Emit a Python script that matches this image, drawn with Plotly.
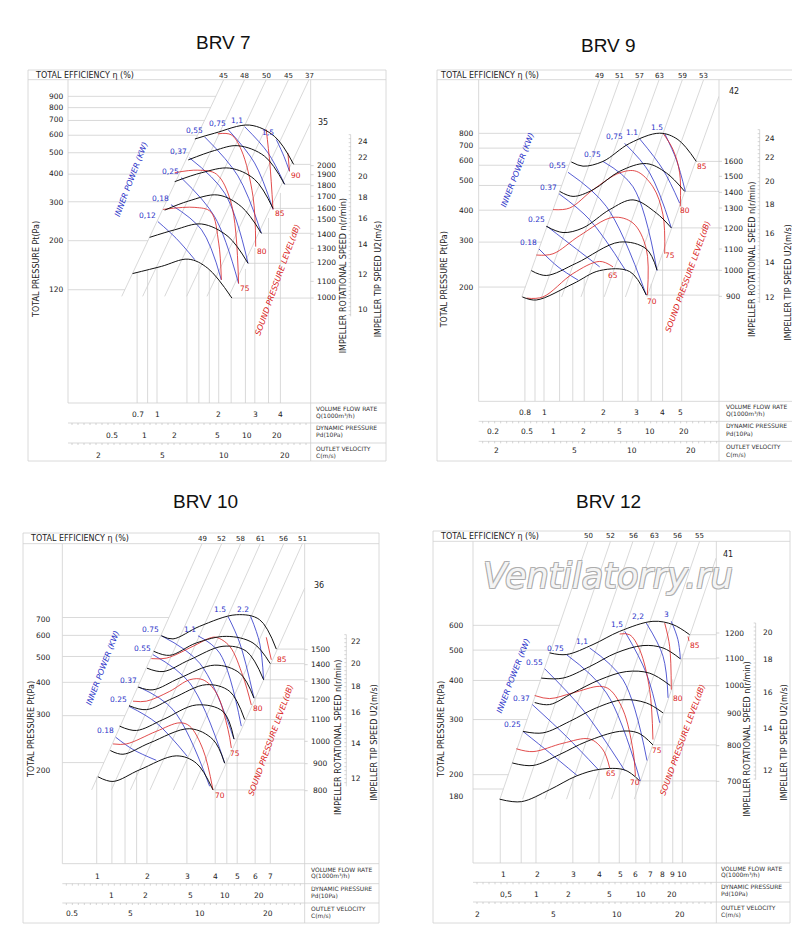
import numpy as np
import plotly.graph_objects as go

W, H = 800, 930

# ---------------- DATA ----------------
# BRV 7  (flow in 1000 m3/h, pressure in Pa)
BRV7_SPEED = [
    [(0.76,142),(1.05,153),(1.42,165),(1.77,150),(2.32,110)],
    [(0.92,207),(1.22,224),(1.65,238),(2.22,209),(2.78,158)],
    [(1.09,275),(1.42,302),(1.98,322),(2.58,285),(3.23,216)],
    [(1.22,370),(1.65,406),(2.26,426),(2.99,379),(3.68,280)],
    [(1.42,464),(1.91,512),(2.48,538),(3.35,482),(4.19,360)],
    [(1.53,577),(1.91,613),(2.83,667),(3.75,592),(4.64,443)],
]
BRV7_SOUND = [
    [(1.07,277),(1.53,283),(1.83,270),(2.0,195),(2.06,133)],
    [(1.22,406),(1.58,417),(1.95,400),(2.30,296),(2.50,128)],
    [(1.98,609),(2.30,603),(2.58,514),(2.94,317),(3.03,188)],
    [(3.41,637),(3.55,450),(3.68,277)],
    [(4.35,499),(4.43,412)],
]
BRV7_SOUND_LABELS = ["75","80","85","90"]
BRV7_SOUND_AT = [(2.68,121),(3.27,178),(4.0,265),(4.75,394)]
BRV7_POWER = [
    [(1.01,244),(1.24,205),(1.53,164)],
    [(1.17,291),(1.65,224),(2.06,133)],
    [(1.31,386),(1.91,257),(2.50,128)],
    [(1.44,474),(2.14,328),(2.78,158)],
    [(1.71,589),(2.48,393),(3.23,216)],
    [(2.22,637),(2.99,450),(3.68,277)],
    [(2.68,655),(3.48,499),(4.19,360)],
    [(3.82,574),(4.16,482),(4.43,412)],
]
BRV7_POWER_LABELS = ["0,12","0,18","0,25","0,37","0,55","0,75","1,1","1,5"]
BRV7_EFF_LABELS = ["45","48","50","45","37"]
BRV7_EFF_TOP_Q = [2.115,2.675,3.41,4.38,5.51]
BRV7_EFF_BOT_Q = [0.673,0.851,1.09,1.395,1.753]
BRV7_EFF_P = (112, 1071)
BRV7_EFF_EXTRA = ("35", (5.66,694), (2.24,112))
BRV7_P_TICKS = [900,800,700,600,500,400,300,200,120]
BRV7_Q_GRID = [0.8,0.9,1,1.4,1.6,1.8,2,2.3,2.7,3,3.5,4]
BRV7_SPEED_TICKS = ["2000","1900","1800","1700","1600","1500","1400","1300","1200","1100","1000"]
BRV7_TIP_TICKS = ["24","22","20","18","16","14","12","10"]
BRV7_FLOW_TICKS = ["0.7","1","2","3","4"]
BRV7_DYN_TICKS = ["0.5","1","2","5","10","20"]
BRV7_VEL_TICKS = ["2","5","10","20"]

# BRV 9
BRV9_SPEED = [
    [(0.776,183),(0.914,178),(1.404,206),(1.917,232),(2.722,230),(3.306,186)],
    [(0.862,232),(1.027,222),(1.459,248),(2.421,300),(3.306,282),(3.748,233)],
    [(1.027,346),(1.249,327),(1.578,341),(2.153,402),(2.831,439),(3.716,390),(4.429,341)],
    [(1.201,474),(1.404,453),(1.774,481),(2.421,568),(3.306,609),(4.177,560),(5.176,474)],
    [(1.376,618),(1.578,595),(1.992,621),(2.722,731),(3.863,801),(4.786,756),(5.930,621)],
]
BRV9_SOUND = [
    [(0.814,181),(0.988,183),(1.404,226),(1.917,252),(2.240,240)],
    [(0.914,267),(1.111,270),(1.517,318),(2.240,375),(2.831,356),(3.306,282),(3.346,186)],
    [(1.111,402),(1.350,408),(1.774,481),(2.421,560),(2.943,568),(3.573,494),(4.017,384),(4.099,270)],
    [(4.017,801),(4.517,691),(4.883,560),(4.918,414)],
]
BRV9_SOUND_LABELS = ["65","70","75","80","85"]
BRV9_SOUND_AT = [(2.24,222),(3.53,176),(4.38,266),(5.2,398),(6.37,595)]
BRV9_POWER = [
    [(0.943,282),(1.178,240),(1.488,213)],
    [(1.036,346),(1.459,282),(1.917,240)],
    [(1.191,464),(1.706,367),(2.599,232)],
    [(1.324,563),(2.071,414),(3.306,186)],
    [(1.992,621),(2.831,494),(3.748,232)],
    [(2.566,731),(3.437,560),(4.429,341)],
    [(3.060,761),(4.017,577),(4.883,426)],
    [(4.099,798),(4.697,631),(5.214,474)],
]
BRV9_POWER_LABELS = ["0.18","0.25","0.37","0,55","0.75","0,75","1.1","1.5"]
BRV9_EFF_LABELS = ["49","51","57","63","59","53"]
BRV9_EFF_TOP_Q = [1.917,2.421,3.060,3.84,5.04,6.46]
BRV9_EFF_BOT_Q = [0.771,0.973,1.229,1.541,2.02,2.59]
BRV9_EFF_P = (183, 1298)
BRV9_EFF_EXTRA = ("42", (7.73,1117), (3.33,183))
BRV9_P_TICKS = [800,700,600,500,400,300,200]
BRV9_Q_GRID = [0.8,0.9,1,1.2,1.4,1.6,2,2.5,3,3.5,4,5]
BRV9_SPEED_TICKS = ["1600","1500","1400","1300","1200","1100","1000","900"]
BRV9_TIP_TICKS = ["24","22","20","18","16","14","12"]
BRV9_FLOW_TICKS = ["0.8","1","2","3","4","5"]
BRV9_DYN_TICKS = ["0.2","0.5","1","2","5","10","20"]
BRV9_VEL_TICKS = ["2","5","10","20"]

# BRV 10
BRV10_SPEED = [
    [(1.215,177),(1.416,170),(1.856,188),(2.694,212),(3.301,199),(3.910,158)],
    [(1.378,222),(1.567,215),(2.055,237),(3.086,268),(3.910,244),(4.402,199)],
    [(1.514,274),(1.795,264),(2.354,290),(3.301,329),(4.328,311),(4.841,245)],
    [(1.666,327),(1.987,316),(2.604,349),(3.654,392),(4.632,370),(5.396,290)],
    [(1.826,384),(2.125,375),(2.787,415),(3.976,464),(5.13,433),(5.93,349)],
    [(2.0,452),(2.354,439),(3.086,486),(4.328,546),(5.49,523),(6.54,409)],
    [(2.140,523),(2.518,505),(3.301,562),(4.477,595),(5.87,562),(7.0,470)],
    [(2.314,598),(2.604,582),(3.415,649),(4.957,717),(6.28,687),(7.44,533)],
]
BRV10_SOUND = [
    [(1.416,235),(1.621,235),(2.198,262),(2.787,282),(3.086,274),(3.532,224),(3.910,158)],
    [(1.735,340),(1.987,340),(2.518,370),(3.086,409),(3.532,409),(4.045,365),(4.554,266),(4.711,227)],
    [(2.090,491),(2.434,493),(3.191,546),(3.780,586),(4.045,590),(4.632,546),(5.303,421),(5.77,329)],
    [(6.72,590),(7.07,486)],
]
BRV10_SOUND_LABELS = ["70","75","80","85"]
BRV10_SOUND_AT = [(4.184,150),(4.9,216),(6.18,318),(7.85,489)]
BRV10_POWER = [
    [(1.455,249),(1.735,224),(2.198,204)],
    [(1.666,325),(2.198,282),(3.013,211)],
    [(1.844,384),(2.604,316),(3.780,163)],
    [(2.125,508),(3.086,398),(4.402,199)],
    [(2.314,598),(3.415,472),(4.841,245)],
    [(3.357,598),(4.184,515),(5.212,274)],
    [(4.554,707),(5.13,562),(5.93,349)],
    [(5.73,707),(6.28,562),(6.54,409)],
]
BRV10_POWER_LABELS = ["0.18","0.25","0.37","0.55","0.75","1.1","1.5","2.2"]
BRV10_EFF_LABELS = ["49","52","58","61","56","51"]
BRV10_EFF_TOP_Q = [3.497,4.27,5.18,6.32,8.02,9.69]
BRV10_EFF_BOT_Q = [1.140,1.393,1.689,2.062,2.613,3.159]
BRV10_EFF_P = (158, 1324)
BRV10_EFF_EXTRA = ("36", (9.93,903), (3.963,158))
BRV10_P_TICKS = [700,600,500,400,300,200]
BRV10_Q_GRID = [1.2,1.4,1.6,1.8,2,3,4,4.5,5,6,7]
BRV10_SPEED_TICKS = ["1500","1400","1300","1200","1100","1000","900","800"]
BRV10_TIP_TICKS = ["22","20","18","16","14","12"]
BRV10_FLOW_TICKS = ["1","2","3","4","5","6","7"]
BRV10_DYN_TICKS = ["1","2","5","10","20"]
BRV10_VEL_TICKS = ["0.5","5","10","20"]

# BRV 12
BRV12_SPEED = [
    [(1.341,167),(1.703,164),(2.323,179),(3.117,198),(4.03,208),(5.31,207),(6.26,191)],
    [(1.542,218),(1.936,214),(2.594,232),(3.479,255),(5.02,275),(6.14,272),(7.24,249)],
    [(1.733,275),(2.160,272),(2.898,296),(3.884,327),(5.21,347),(6.73,339),(8.09,315)],
    [(1.972,340),(2.323,335),(3.0,365),(4.03,402),(5.40,427),(6.98,422),(8.77,385)],
    [(2.120,407),(2.691,407),(3.61,443),(4.84,490),(6.49,517),(8.09,508),(9.79,469)],
    [(2.323,490),(2.793,484),(3.746,521),(5.02,574),(7.24,618),(9.03,603),(10.84,560)],
]
BRV12_SOUND = [
    [(1.611,242),(1.936,237),(2.691,252),(3.61,260),(4.18,240),(4.50,210)],
    [(1.972,358),(2.323,350),(3.0,365),(4.03,383),(4.50,374),(5.21,322),(5.81,240),(5.97,198)],
    [(5.02,563),(5.60,560),(6.26,501),(6.98,374),(7.24,259)],
    [(8.24,610),(8.70,514),(8.86,374)],
    [(10.65,553),(10.77,534)],
]
BRV12_SOUND_LABELS = ["65","70","75","80","85"]
BRV12_SOUND_AT = [(4.54,202),(5.94,189),(7.6,239),(9.53,349),(11.46,517)]
BRV12_POWER = [
    [(1.733,275),(2.323,235),(3.137,199)],
    [(1.920,335),(2.793,265),(3.985,207)],
    [(2.199,436),(3.354,322),(5.31,206)],
    [(2.793,484),(4.34,365),(6.30,191)],
    [(3.61,508),(5.21,402),(6.78,222)],
    [(5.31,574),(6.73,422),(7.80,293)],
    [(6.73,610),(8.09,478),(8.55,352)],
    [(8.86,618),(9.53,540),(9.79,469)],
]
BRV12_POWER_LABELS = ["0.25","0.37","0.55","0.75","1,1","1,5","2,2","3"]
BRV12_EFF_LABELS = ["50","52","56","63","56","55"]
BRV12_EFF_TOP_Q = [3.544,4.54,5.81,7.38,9.47,12.1]
BRV12_EFF_BOT_Q = [1.345,1.727,2.206,2.80,3.597,4.59]
BRV12_EFF_P = (167, 1114)
BRV12_EFF_EXTRA = ("41", (14.5,984), (5.90,167))
BRV12_P_TICKS = [600,500,400,300,200,180]
BRV12_Q_GRID = [1.35,1.7,2,3,4,5,6,7,8,9,10]
BRV12_SPEED_TICKS = ["1200","1100","1000","900","800","700"]
BRV12_TIP_TICKS = ["20","18","16","14","12"]
BRV12_FLOW_TICKS = ["1","2","3","4","5","6","7","8","9","10"]
BRV12_DYN_TICKS = ["0,5","1","2","5","10","20"]
BRV12_VEL_TICKS = ["2","5","10","20"]

# ---------------- LAYOUT (positions in 1/3-scale sub-image pixels) ----------------
PANELS = [
 dict(name="BRV 7", off=(20,55), box=(20,62,378,453), title=(215,35),
      plot=(120,848,50,1020), xcal=(1,387,615), ycal=(900,100,663),
      eff_row=(22,50), eff_y=38, eff_x=[587,650,715,782,843], extra_xy=(865,178),
      rows=(1020,1080,1140), row_y=(1055,1118,1178), row_lab_x=858,
      row_lab_y=[(1037,1057),(1093,1115),(1155,1178)],
      flow_x=[330,387,572,681,756], dyn_x=[253,348,438,567,656,748], vel_x=[212,402,587,772],
      ptick_x=85, ptick_y=[100,133,168,215,268,333,417,533,678],
      spd_x=895, spd_y=[308,335,368,400,435,470,513,556,598,655,705],
      tip_x=1005, tip_axis=968, tip_span=(215,760), tip_y=[235,285,340,402,468,545,635,740],
      tp=(25,620), rs=(945,640), ts=(1052,650), ip=(310,350), sp=(750,650),
      d=dict(S=BRV7_SPEED, R=BRV7_SOUND, RL=BRV7_SOUND_LABELS, RA=BRV7_SOUND_AT, B=BRV7_POWER, BL=BRV7_POWER_LABELS,
             EL=BRV7_EFF_LABELS, ET=BRV7_EFF_TOP_Q, EB=BRV7_EFF_BOT_Q, EP=BRV7_EFF_P, EX=BRV7_EFF_EXTRA,
             PT=BRV7_P_TICKS, QG=BRV7_Q_GRID, ST=BRV7_SPEED_TICKS, TT=BRV7_TIP_TICKS,
             FT=BRV7_FLOW_TICKS, DT=BRV7_DYN_TICKS, VT=BRV7_VEL_TICKS)),
 dict(name="BRV 9", off=(425,55), box=(429,62,787,453), title=(600,37),
      plot=(137,858,50,1015), xcal=(1,333,591), ycal=(800,211,766),
      eff_row=(22,50), eff_y=38, eff_x=[500,560,620,678,748,812], extra_xy=(882,85),
      rows=(1015,1075,1135), row_y=(1048,1105,1163), row_lab_x=872,
      row_lab_y=[(1030,1053),(1088,1110),(1150,1175)],
      flow_x=[275,333,511,610,688,742], dyn_x=[180,282,360,452,558,651,752], vel_x=[190,423,598,773],
      ptick_x=100, ptick_y=[211,247,292,351,443,534,672],
      spd_x=900, spd_y=[295,340,388,435,495,558,622,700],
      tip_x=1010, tip_axis=980, tip_span=(200,720), tip_y=[225,285,355,425,510,600,705],
      tp=(35,650), rs=(958,590), ts=(1067,660), ip=(255,320), sp=(765,640),
      d=dict(S=BRV9_SPEED, R=BRV9_SOUND, RL=BRV9_SOUND_LABELS, RA=BRV9_SOUND_AT, B=BRV9_POWER, BL=BRV9_POWER_LABELS,
             EL=BRV9_EFF_LABELS, ET=BRV9_EFF_TOP_Q, EB=BRV9_EFF_BOT_Q, EP=BRV9_EFF_P, EX=BRV9_EFF_EXTRA,
             PT=BRV9_P_TICKS, QG=BRV9_Q_GRID, ST=BRV9_SPEED_TICKS, TT=BRV9_TIP_TICKS,
             FT=BRV9_FLOW_TICKS, DT=BRV9_DYN_TICKS, VT=BRV9_VEL_TICKS)),
 dict(name="BRV 10", off=(15,515), box=(15,525,371,915), title=(197,494),
      plot=(118,845,62,1022), xcal=(2,372,680), ycal=(400,478,800),
      eff_row=(30,62), eff_y=47, eff_x=[537,596,653,712,782,838], extra_xy=(866,188),
      rows=(1022,1082,1140), row_y=(1060,1118,1170), row_lab_x=858,
      row_lab_y=[(1038,1058),(1095,1117),(1155,1178)],
      flow_x=[222,372,492,577,642,698,742], dyn_x=[265,368,503,605,708], vel_x=[148,323,530,736],
      ptick_x=62, ptick_y=[288,338,404,478,573,743],
      spd_x=893, spd_y=[380,425,475,528,590,655,722,803],
      tip_x=998, tip_axis=970, tip_span=(335,790), tip_y=[355,420,490,568,660,765],
      tp=(25,620), rs=(945,645), ts=(1052,660), ip=(238,435), sp=(745,650),
      d=dict(S=BRV10_SPEED, R=BRV10_SOUND, RL=BRV10_SOUND_LABELS, RA=BRV10_SOUND_AT, B=BRV10_POWER, BL=BRV10_POWER_LABELS,
             EL=BRV10_EFF_LABELS, ET=BRV10_EFF_TOP_Q, EB=BRV10_EFF_BOT_Q, EP=BRV10_EFF_P, EX=BRV10_EFF_EXTRA,
             PT=BRV10_P_TICKS, QG=BRV10_Q_GRID, ST=BRV10_SPEED_TICKS, TT=BRV10_TIP_TICKS,
             FT=BRV10_FLOW_TICKS, DT=BRV10_DYN_TICKS, VT=BRV10_VEL_TICKS)),
 dict(name="BRV 12", off=(425,515), box=(425,523,782,915), title=(600,494),
      plot=(120,850,55,1020), xcal=(4,498,628), ycal=(600,307,939),
      eff_row=(25,55), eff_y=40, eff_x=[465,533,600,665,733,800], extra_xy=(865,95),
      rows=(1020,1078,1137), row_y=(1055,1115,1175), row_lab_x=858,
      row_lab_y=[(1035,1055),(1090,1110),(1152,1173)],
      flow_x=[210,313,422,498,562,608,652,688,718,748], dyn_x=[218,310,407,530,625,718], vel_x=[132,362,553,742],
      ptick_x=70, ptick_y=[307,382,472,588,755,820],
      spd_x=905, spd_y=[330,405,488,570,668,775],
      tip_x=1005, tip_axis=968, tip_span=(300,770), tip_y=[327,410,508,615,742],
      tp=(25,620), rs=(945,650), ts=(1052,660), ip=(240,460), sp=(750,650),
      d=dict(S=BRV12_SPEED, R=BRV12_SOUND, RL=BRV12_SOUND_LABELS, RA=BRV12_SOUND_AT, B=BRV12_POWER, BL=BRV12_POWER_LABELS,
             EL=BRV12_EFF_LABELS, ET=BRV12_EFF_TOP_Q, EB=BRV12_EFF_BOT_Q, EP=BRV12_EFF_P, EX=BRV12_EFF_EXTRA,
             PT=BRV12_P_TICKS, QG=BRV12_Q_GRID, ST=BRV12_SPEED_TICKS, TT=BRV12_TIP_TICKS,
             FT=BRV12_FLOW_TICKS, DT=BRV12_DYN_TICKS, VT=BRV12_VEL_TICKS)),
]

FONT = "DejaVu Sans"
BLACK, BLUE, RED, GRID = "#111111", "#2b33c8", "#d92020", "#cfcfcf"

fig = go.Figure()
shapes, anns = [], []

def pxp(x): return x / W
def pyp(y): return 1 - y / H

def T(text, x, y, size=7, color="#222", xa="center", ya="middle", angle=0, ref=("paper","paper"), style="normal", fam=FONT):
    anns.append(dict(text=text, x=x, y=y, xref=ref[0], yref=ref[1], showarrow=False,
                     xanchor=xa, yanchor=ya, textangle=angle,
                     font=dict(size=size, color=color, family=fam, style=style)))

def L(x0, y0, x1, y1, color=GRID, w=0.8):
    shapes.append(dict(type="line", xref="paper", yref="paper", x0=pxp(x0), y0=pyp(y0), x1=pxp(x1), y1=pyp(y1),
                       line=dict(color=color, width=w)))

for i, P in enumerate(PANELS):
    k = "" if i == 0 else str(i + 1)
    xa, ya = "x" + k, "y" + k
    ox, oy = P["off"]
    Z = lambda zx, zy: (ox + zx / 3.0, oy + zy / 3.0)
    zx0, zx1, zyt, zyb = P["plot"]
    (x0, yt), (x1, yb) = Z(zx0, zyt), Z(zx1, zyb)
    qa, qz, qd = P["xcal"]; pa, pz, pd = P["ycal"]
    xr = [np.log10(qa) + (zx0 - qz) / qd, np.log10(qa) + (zx1 - qz) / qd]
    yr = [np.log10(pa) - (zyb - pz) / pd, np.log10(pa) - (zyt - pz) / pd]
    fig.layout["xaxis" + k] = dict(type="log", range=xr, domain=[pxp(x0), pxp(x1)], visible=False,
                                   anchor=ya, fixedrange=True)
    fig.layout["yaxis" + k] = dict(type="log", range=yr, domain=[pyp(yb), pyp(yt)], visible=False,
                                   anchor=xa, fixedrange=True)
    d = P["d"]
    def line(pts, color, w, shape="spline"):
        q = [a for a, b in pts]; p = [b for a, b in pts]
        fig.add_trace(go.Scatter(x=q, y=p, mode="lines", xaxis=xa, yaxis=ya, hoverinfo="skip",
                                 line=dict(color=color, width=w, shape=shape, smoothing=1.0), showlegend=False))
    lpb, lpt = np.log10(d["EP"][0]), np.log10(d["EP"][1])
    for qt, qb in zip(d["ET"], d["EB"]):
        line([(qb, d["EP"][0]), (qt, d["EP"][1])], GRID, 0.8, "linear")
    ex = d["EX"]
    line([ex[2], ex[1]], GRID, 0.8, "linear")
    lqb, lqt = np.log10(d["EB"][0]), np.log10(d["ET"][0])
    for p in d["PT"]:
        lq = lqb + (np.log10(p) - lpb) * (lqt - lqb) / (lpt - lpb)
        lq = max(lq, lqb)
        line([(10 ** xr[0], p), (10 ** lq, p)], GRID, 0.8, "linear")
    env = list(d["S"][0]) + [c[-1] for c in d["S"][1:]]
    env.sort()
    eq = np.log10([a for a, b in env]); ep = np.log10([b for a, b in env])
    for q in d["QG"]:
        top = 10 ** np.interp(np.log10(q), eq, ep)
        line([(q, 10 ** yr[0]), (q, top)], GRID, 0.8, "linear")
    for c in d["S"]:
        line([c[-1], (10 ** xr[1], c[-1][1])], GRID, 0.8, "linear")
    for c in d["B"]:
        line(c, BLUE, 0.8)
    for c in d["R"]:
        line(c, RED, 0.8)
    for c in d["S"]:
        line(c, BLACK, 1.0)
    for lab, c in zip(d["BL"], d["B"]):
        T(lab, np.log10(c[0][0]), np.log10(c[0][1]), 7.5, BLUE, "right", "bottom", ref=(xa, ya))
    for lab, (q, p) in zip(d["RL"], d["RA"]):
        T(lab, np.log10(q), np.log10(p), 7.5, RED, "center", "middle", ref=(xa, ya))

    bx0, by0, bx1, by1 = P["box"]
    for a in [(bx0, by0, bx1, by0), (bx0, by1, bx1, by1), (bx0, by0, bx0, by1), (bx1, by0, bx1, by1)]:
        L(*a, color="#d0d0d0")
    er1 = Z(0, P["eff_row"][1])[1]
    L(bx0, er1, bx1, er1, color="#d0d0d0")
    L(x0, er1, x0, Z(0, P["rows"][0])[1])
    L(x1, er1, x1, by1)
    for r in P["rows"]:
        yy = Z(0, r)[1]
        L(x0, yy, bx1, yy)
    for r in P["rows"][1:]:
        yy = Z(0, r)[1]
        for tx in np.arange(x0 + 4, x1, 6):
            L(tx, yy, tx, yy + 2, color="#bbbbbb", w=0.6)
    tax = Z(P["tip_axis"], 0)[0]
    L(tax, Z(0, P["tip_span"][0])[1], tax, Z(0, P["tip_span"][1])[1])
    for ty in np.arange(P["tip_span"][0], P["tip_span"][1], 12):
        yy = Z(0, ty)[1]
        L(tax - 2, yy, tax, yy, color="#bbbbbb", w=0.6)
    for sy in P["spd_y"]:
        yy = Z(0, sy)[1]
        L(x1, yy, x1 + 3, yy, color="#bbbbbb", w=0.6)

    T(P["name"], pxp(P["title"][0]), pyp(P["title"][1]), 19, "#111", fam="Liberation Sans")
    ey = pyp(Z(0, P["eff_y"])[1])
    T("TOTAL EFFICIENCY η (%)", pxp(Z(15, 0)[0]), ey, 8, "#222", "left")
    for lab, zx in zip(d["EL"], P["eff_x"]):
        T(lab, pxp(Z(zx, 0)[0]), ey, 7)
    exy = Z(*P["extra_xy"])
    T(ex[0], pxp(exy[0]), pyp(exy[1]), 8, "#222", "left")
    for lab, zy in zip(d["PT"], P["ptick_y"]):
        c = Z(P["ptick_x"], zy)
        T(str(lab), pxp(c[0]), pyp(c[1]), 7.5)
    for lab, zy in zip(d["ST"], P["spd_y"]):
        c = Z(P["spd_x"], zy)
        T(lab, pxp(c[0]), pyp(c[1]), 7.5)
    for lab, zy in zip(d["TT"], P["tip_y"]):
        c = Z(P["tip_x"], zy)
        T(lab, pxp(c[0]), pyp(c[1]), 7.5)
    for labs, xs, zy in [(d["FT"], P["flow_x"], P["row_y"][0]), (d["DT"], P["dyn_x"], P["row_y"][1]),
                         (d["VT"], P["vel_x"], P["row_y"][2])]:
        for lab, zx in zip(labs, xs):
            c = Z(zx, zy)
            T(lab, pxp(c[0]), pyp(c[1]), 7.5)
    rl = [("VOLUME FLOW RATE", "Q(1000m³/h)"), ("DYNAMIC PRESSURE", "Pd(10Pa)"), ("OUTLET VELOCITY", "C(m/s)")]
    for (a, b), (ya1, yb1) in zip(rl, P["row_lab_y"]):
        c1 = Z(P["row_lab_x"], ya1); c2 = Z(P["row_lab_x"], yb1)
        T(a, pxp(c1[0]), pyp(c1[1]), 6, "#333", "left")
        T(b, pxp(c2[0]), pyp(c2[1]), 6, "#333", "left")
    c = Z(*P["tp"]); T("TOTAL PRESSURE Pt(Pa)", pxp(c[0]), pyp(c[1]), 8, "#222", angle=-90)
    c = Z(*P["rs"]); T("IMPELLER ROTATIONAL SPEED n(r/min)", pxp(c[0]), pyp(c[1]), 8, "#222", angle=-90)
    c = Z(*P["ts"]); T("IMPELLER TIP SPEED U2(m/s)", pxp(c[0]), pyp(c[1]), 8, "#222", angle=-90)
    c = Z(*P["ip"]); T("INNER POWER (KW)", pxp(c[0]), pyp(c[1]), 8, BLUE, angle=-69, style="italic")
    c = Z(*P["sp"]); T("SOUND PRESSURE LEVEL(dB)", pxp(c[0]), pyp(c[1]), 8, RED, angle=-70, style="italic")

anns.append(dict(text="Ventilatorry.ru", x=pxp(600), y=pyp(568), xref="paper", yref="paper", showarrow=False,
                 xanchor="center", yanchor="middle",
                 font=dict(size=35, color="rgba(255,255,255,0.9)", family="DejaVu Sans", style="italic",
                           shadow="1px 1px 0 #aaa, -1px -1px 0 #aaa, 1px -1px 0 #aaa, -1px 1px 0 #aaa")))

fig.update_layout(width=W, height=H, margin=dict(l=0, r=0, t=0, b=0), paper_bgcolor="white",
                  plot_bgcolor="rgba(0,0,0,0)", shapes=shapes, annotations=anns, showlegend=False)
fig.write_html("out.html")
